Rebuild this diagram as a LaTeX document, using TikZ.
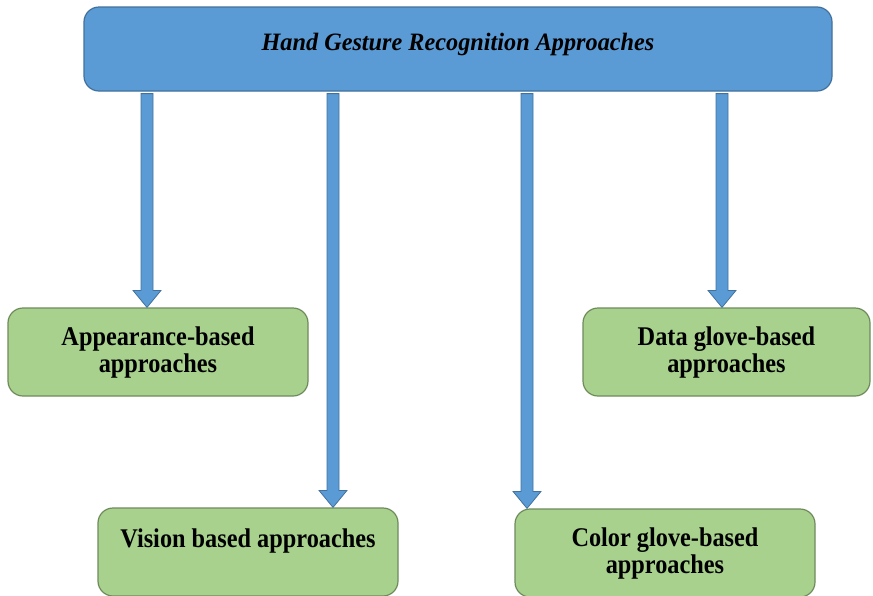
\documentclass[tikz,border=0pt]{standalone}
\usepackage{fontspec}
\setmainfont{Liberation Serif}
\newfontfamily\leaffont[FakeStretch=0.9]{Liberation Serif}
\newfontfamily\headfont[FakeStretch=0.97]{Liberation Serif}
\usetikzlibrary{calc}

\definecolor{topfill}{HTML}{5B9BD5}
\definecolor{topline}{HTML}{41719C}
\definecolor{leaffill}{HTML}{A9D18E}
\definecolor{leafline}{HTML}{6E8B5C}

\tikzset{
  topbox/.style={draw=topline, fill=topfill, line width=1.2pt, rounded corners=15pt,
    minimum width=748pt, minimum height=84pt, inner sep=0pt,
    font=\headfont\fontsize{25}{28}\selectfont\bfseries\itshape, text depth=15pt},
  leafbox/.style={draw=leafline, fill=leaffill, line width=1.2pt, rounded corners=15pt,
    minimum height=88pt, inner sep=0pt, align=center,
    font=\leaffont\fontsize{27}{27}\selectfont\bfseries},
  blockarrow/.style={draw=topline, fill=topfill, line width=0.8pt, line join=miter},
}

% block arrow from #1 (top of shaft) down to #2 (tip)
\newcommand\blockarrow[2]{%
  \draw[blockarrow] ($(#1)+(-6,0)$) -- ($(#2)+(-6,-17)$) -- ($(#2)+(-14,-17)$) -- (#2)
    -- ($(#2)+(14,-17)$) -- ($(#2)+(6,-17)$) -- ($(#1)+(6,0)$) -- cycle;}

\begin{document}
\begin{tikzpicture}[x=1pt, y=-1pt]
  \useasboundingbox (0,0) rectangle (873,595);
  \fill[white] (0,0) rectangle (873,595);

  \node[topbox] (top) at (458,49) {Hand Gesture Recognition Approaches};

  \node[leafbox, minimum width=300pt] (app) at (158,352) {Appearance-based\\approaches};
  \node[leafbox, minimum width=287pt] (data) at (726.5,352) {Data glove-based\\approaches};
  \node[leafbox, minimum width=300pt] (vis) at (248,552) {Vision based approaches\\~};
  \node[leafbox, minimum width=300pt] (col) at (665,553) {Color glove-based\\approaches};

  % shaft positions of the four arrows
  \coordinate (x1) at (147,0);
  \coordinate (x2) at (333,0);
  \coordinate (x3) at (527,0);
  \coordinate (x4) at (722,0);

  \coordinate (s1) at ($(top.south -| x1)+(0,2)$);
  \coordinate (s2) at ($(top.south -| x2)+(0,2)$);
  \coordinate (s3) at ($(top.south -| x3)+(0,2)$);
  \coordinate (s4) at ($(top.south -| x4)+(0,2)$);

  \coordinate (t1) at (app.north -| x1);
  \coordinate (t2) at (vis.north -| x2);
  \coordinate (t3) at (col.north -| x3);
  \coordinate (t4) at (data.north -| x4);

  \blockarrow{s1}{t1}
  \blockarrow{s2}{t2}
  \blockarrow{s3}{t3}
  \blockarrow{s4}{t4}
\end{tikzpicture}
\end{document}
